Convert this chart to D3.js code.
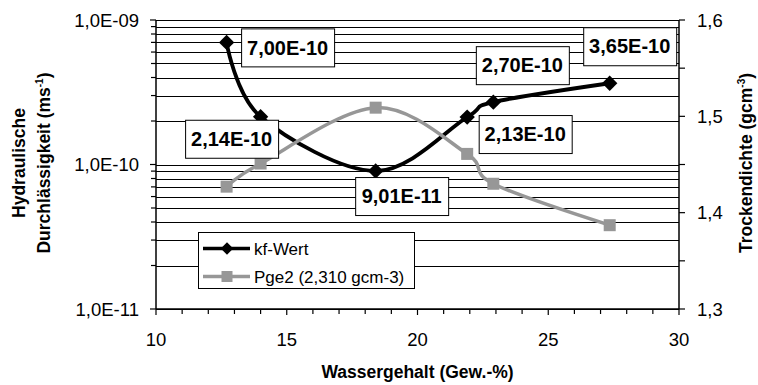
<!DOCTYPE html>
<html>
<head>
<meta charset="utf-8">
<script src="https://cdn.jsdelivr.net/npm/d3@7"></script>
<style>
  body { margin: 0; background: #fff; }
  svg { display: block; }
  text { font-family: "Liberation Sans", Arial, sans-serif; fill: #000; }
</style>
</head>
<body>
<svg id="chart" width="758" height="385"></svg>
<script>
// Water content (Gew.-%) of each sample
const water = [12.7, 14.0, 18.4, 21.9, 22.9, 27.35];
// Hydraulic conductivity kf (m/s), left log axis
const kfValues = [7.00e-10, 2.14e-10, 9.01e-11, 2.13e-10, 2.70e-10, 3.65e-10];
const kfLabels = ["7,00E-10", "2,14E-10", "9,01E-11", "2,13E-10", "2,70E-10", "3,65E-10"];
// Dry density (g/cm3), right axis
const density = [1.427, 1.451, 1.509, 1.461, 1.430, 1.387];

const seriesNames = ["kf-Wert", "Pge2 (2,310 gcm-3)"];
const xTicks = [10, 15, 20, 25, 30];
const yLeftTicks = [1e-11, 1e-10, 1e-9];
const yLeftTickLabels = ["1,0E-11", "1,0E-10", "1,0E-09"];
const yRightTicks = [1.3, 1.4, 1.5, 1.6];
const yRightTickLabels = ["1,3", "1,4", "1,5", "1,6"];

// Placement of each value box relative to its point (px)
const labelShift = [[61, 5], [-29, 22], [26, 25], [58, 17], [29, -37], [20, -37]];

const svg = d3.select("#chart");
const L = 156, R = 679, T = 20, B = 309;
const x = d3.scaleLinear().domain([10, 30]).range([L, R]);
const yL = d3.scaleLog().domain([1e-11, 1e-9]).range([B, T]);
const yR = d3.scaleLinear().domain([1.3, 1.6]).range([B, T]);

const FONT_TICK = 18.5, FONT_TITLE = 17.5;

// Horizontal gridlines at every log step
const gridVals = [];
for (let e = -11; e < -9; e++) for (let k = 1; k <= 9; k++) gridVals.push(k * Math.pow(10, e));
gridVals.push(1e-9);
svg.append("g").selectAll("line").data(gridVals).join("line")
  .attr("x1", L).attr("x2", R)
  .attr("y1", d => Math.round(yL(d)) + 0.5).attr("y2", d => Math.round(yL(d)) + 0.5)
  .attr("stroke", "#000").attr("stroke-width", 1);

// Axes
const ax = svg.append("g").attr("stroke", "#000").attr("stroke-width", 1.5);
ax.append("line").attr("x1", L).attr("x2", L).attr("y1", T).attr("y2", B);
ax.append("line").attr("x1", R).attr("x2", R).attr("y1", T).attr("y2", B);
ax.append("line").attr("x1", L).attr("x2", R).attr("y1", B).attr("y2", B);

// x ticks (every unit)
const xMinor = d3.range(10, 31, 1);
ax.selectAll(".xt").data(xMinor).join("line")
  .attr("x1", d => x(d)).attr("x2", d => x(d))
  .attr("y1", B).attr("y2", d => B + (d % 5 === 0 ? 6 : 5)).attr("stroke-width", 1.2);
svg.append("g").selectAll("text").data(xTicks).join("text")
  .attr("x", d => x(d)).attr("y", 346).attr("text-anchor", "middle")
  .attr("font-size", FONT_TICK).text(d => d);

// left ticks
ax.selectAll(".yt").data(gridVals).join("line")
  .attr("x1", d => L - (yLeftTicks.includes(d) ? 6 : 5)).attr("x2", L)
  .attr("y1", d => yL(d)).attr("y2", d => yL(d)).attr("stroke-width", 1.2);
svg.append("g").selectAll("text").data(yLeftTicks).join("text")
  .attr("x", 139).attr("y", d => yL(d)).attr("dy", "0.36em").attr("text-anchor", "end")
  .attr("font-size", FONT_TICK).text((d, i) => yLeftTickLabels[i]);

// right ticks (with half-step minors)
const rMinor = d3.range(1.3, 1.6001, 0.05);
ax.selectAll(".rt").data(rMinor).join("line")
  .attr("x1", R).attr("x2", R + 6)
  .attr("y1", d => yR(d)).attr("y2", d => yR(d)).attr("stroke-width", 1.2);
svg.append("g").selectAll("text").data(yRightTicks).join("text")
  .attr("x", 697).attr("y", d => yR(d)).attr("dy", "0.36em")
  .attr("font-size", FONT_TICK).text((d, i) => yRightTickLabels[i]);

// Axis titles
svg.append("text").attr("x", (L + R) / 2).attr("y", 378).attr("text-anchor", "middle")
  .attr("font-size", FONT_TITLE).attr("font-weight", "bold").text("Wassergehalt (Gew.-%)");

const lt = svg.append("g").attr("transform", "translate(0,163) rotate(-90)")
  .attr("font-size", FONT_TITLE).attr("font-weight", "bold");
lt.append("text").attr("x", 0).attr("y", 25).attr("text-anchor", "middle").text("Hydraulische");
const lt2 = lt.append("text").attr("x", 0).attr("y", 50).attr("text-anchor", "middle");
lt2.append("tspan").text("Durchlässigkeit (ms");
lt2.append("tspan").attr("dy", -7).attr("font-size", 10).text("-1");
lt2.append("tspan").attr("dy", 7).text(")");

const rt = svg.append("text").attr("transform", "translate(752,163) rotate(-90)")
  .attr("text-anchor", "middle").attr("font-size", FONT_TITLE).attr("font-weight", "bold");
rt.append("tspan").text("Trockendichte (gcm");
rt.append("tspan").attr("dy", -7).attr("font-size", 10).text("-3");
rt.append("tspan").attr("dy", 7).text(")");

// Series
const kfPts = water.map((w, i) => [x(w), yL(kfValues[i])]);
const dPts = water.map((w, i) => [x(w), yR(density[i])]);
const smooth = d3.line().curve(d3.curveCardinal.tension(0));

const GRAY = "#979797";
svg.append("path").attr("d", smooth(kfPts)).attr("fill", "none")
  .attr("stroke", "#000").attr("stroke-width", 3.8);
svg.append("g").selectAll("path").data(kfPts).join("path")
  .attr("d", d3.symbol(d3.symbolDiamond2, 150))
  .attr("transform", d => `translate(${d[0]},${d[1]})`).attr("fill", "#000");

svg.append("path").attr("d", smooth(dPts)).attr("fill", "none")
  .attr("stroke", GRAY).attr("stroke-width", 3.5);
svg.append("g").selectAll("rect").data(dPts).join("rect")
  .attr("x", d => d[0] - 6).attr("y", d => d[1] - 6).attr("width", 12).attr("height", 12)
  .attr("fill", GRAY);

// Value boxes for kf
const bw = 93, bh = 38;
const lab = svg.append("g").selectAll("g").data(kfPts).join("g")
  .attr("transform", (d, i) => `translate(${d[0] + labelShift[i][0]},${d[1] + labelShift[i][1]})`);
lab.append("rect").attr("x", -bw / 2 + 0.5).attr("y", -bh / 2 + 0.5).attr("width", bw).attr("height", bh)
  .attr("fill", "#fff").attr("stroke", "#000").attr("stroke-width", 1);
lab.append("text").attr("text-anchor", "middle").attr("dy", "0.36em")
  .attr("font-size", 20).attr("font-weight", "bold").text((d, i) => kfLabels[i]);

// Legend
const lg = svg.append("g");
lg.append("rect").attr("x", 198.5).attr("y", 232.5).attr("width", 216).attr("height", 56)
  .attr("fill", "#fff").attr("stroke", "#000").attr("stroke-width", 1);
const rows = [{ c: "#000", m: "diamond", y: 248.5 }, { c: GRAY, m: "square", y: 276.5 }];
rows.forEach((r, i) => {
  lg.append("line").attr("x1", 203).attr("x2", 250).attr("y1", r.y).attr("y2", r.y)
    .attr("stroke", r.c).attr("stroke-width", 3.5);
  if (r.m === "diamond") {
    lg.append("path").attr("d", d3.symbol(d3.symbolDiamond2, 100))
      .attr("transform", `translate(227,${r.y})`).attr("fill", r.c);
  } else {
    lg.append("rect").attr("x", 227 - 5.5).attr("y", r.y - 5.5).attr("width", 11).attr("height", 11).attr("fill", r.c);
  }
  lg.append("text").attr("x", 254).attr("y", r.y).attr("dy", "0.36em")
    .attr("font-size", 17).text(seriesNames[i]);
});
</script>
</body>
</html>
